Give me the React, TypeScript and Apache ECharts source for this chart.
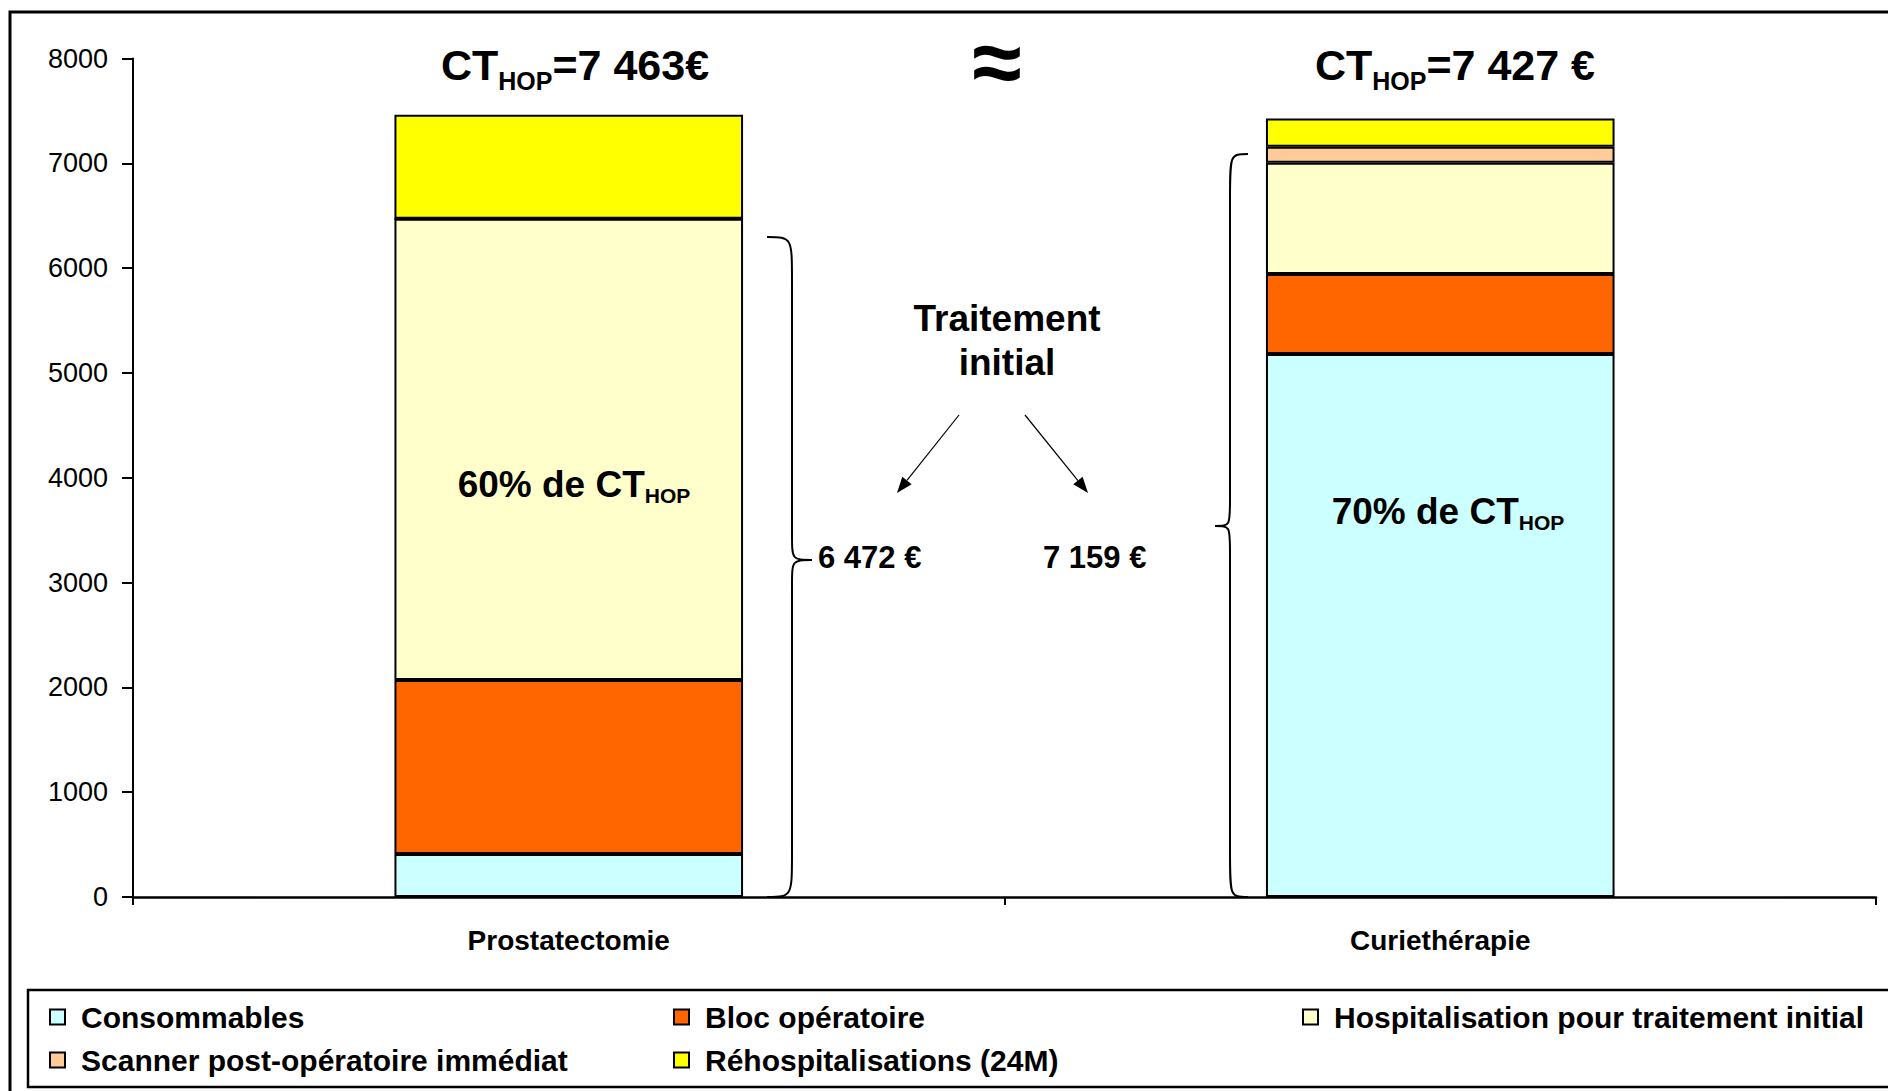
import React, { useEffect, useRef } from "react";
import * as echarts from "echarts";

const categories = ["Prostatectomie", "Curiethérapie"];
const seriesNames = [
  "Consommables",
  "Bloc opératoire",
  "Hospitalisation pour traitement initial",
  "Scanner post-opératoire immédiat",
  "Réhospitalisations (24M)",
];
const consommables = [410, 5180];
const blocOperatoire = [1660, 765];
const hospitalisation = [4402, 1060];
const scanner = [0, 154];
const rehospitalisations = [991, 268];
const seriesColors = ["#CCFFFF", "#FF6600", "#FFFFCC", "#FFCC99", "#FFFF00"];
const totalLabels = ["=7 463€", "=7 427 €"];
const initialLabels = ["6 472 €", "7 159 €"];
const shareLabels = ["60% de CT", "70% de CT"];
const yMax = 8000;
const yInterval = 1000;

const FONT = '"Liberation Sans", Arial, Helvetica, sans-serif';

function measure(text: string, size: number, weight = "bold"): number {
  const c = document.createElement("canvas").getContext("2d");
  if (!c) return text.length * size * 0.55;
  c.font = `${weight} ${size}px ${FONT}`;
  return c.measureText(text).width;
}

function txt(x: number, y: number, text: string, size: number, align = "center", weight = "bold") {
  return {
    type: "text",
    x,
    y,
    z: 100,
    style: {
      text,
      font: `${weight} ${size}px ${FONT}`,
      fill: "#000",
      textAlign: align,
      textVerticalAlign: "middle",
      align,
      verticalAlign: "middle",
    },
  };
}

function subLabel(cx: number, cy: number, parts: { t: string; sub?: boolean }[], F: number, f: number, off: number) {
  const widths = parts.map((p) => measure(p.t, p.sub ? f : F));
  const W = widths.reduce((a, b) => a + b, 0);
  let x = cx - W / 2;
  return parts.map((p, i) => {
    const y = p.sub ? cy + 0.358 * F + off - 0.358 * f : cy;
    const el = txt(x, y, p.t, p.sub ? f : F, "left");
    x += widths[i];
    return el;
  });
}

function bracePath(xe: number, xv: number, xt: number, top: number, tipY: number, bottom: number, r: number, r2: number) {
  return (
    `M${xe} ${top} C${xv} ${top} ${xv} ${top} ${xv} ${top + r} ` +
    `L${xv} ${tipY - r2} C${xv} ${tipY} ${xv} ${tipY} ${xt} ${tipY} ` +
    `C${xv} ${tipY} ${xv} ${tipY} ${xv} ${tipY + r2} ` +
    `L${xv} ${bottom - r} C${xv} ${bottom} ${xv} ${bottom} ${xe} ${bottom}`
  );
}

echarts.graphic.registerShape("braceLeft", echarts.graphic.extendPath(bracePath(767, 792, 812, 237, 560, 897, 45, 26), {}));
echarts.graphic.registerShape("braceRight", echarts.graphic.extendPath(bracePath(1248, 1230, 1215, 154, 526, 897, 45, 26), {}));

function arrow(x1: number, y1: number, x2: number, y2: number) {
  const dx = x2 - x1;
  const dy = y2 - y1;
  const len = Math.sqrt(dx * dx + dy * dy);
  const ux = dx / len;
  const uy = dy / len;
  const hl = 16;
  const hw = 6;
  const bx = x2 - ux * hl;
  const by = y2 - uy * hl;
  return [
    { type: "line", z: 100, shape: { x1, y1, x2: bx, y2: by }, style: { stroke: "#000", lineWidth: 1.2 } },
    {
      type: "polygon",
      z: 100,
      shape: { points: [[x2, y2], [bx - uy * hw, by + ux * hw], [bx + uy * hw, by - ux * hw]] },
      style: { fill: "#000" },
    },
  ];
}

export default function App() {
  const ref = useRef<HTMLDivElement>(null);
  useEffect(() => {
    document.body.style.margin = "0";
    if (!ref.current) return;
    const chart = echarts.init(ref.current, null, { renderer: "svg" });
    const dataSets = [consommables, blocOperatoire, hospitalisation, scanner, rehospitalisations];
    const series = seriesNames.map((name, i) => ({
      name,
      type: "bar",
      stack: "total",
      barWidth: "40%",
      data: dataSets[i],
      itemStyle: { color: seriesColors[i], borderColor: "#000", borderWidth: 2 },
    }));
    const legendPos = [
      [49, 1002],
      [673, 1002],
      [1302, 1002],
      [49, 1045],
      [673, 1045],
    ];
    const legends = seriesNames.map((name, i) => ({
      data: [name],
      left: legendPos[i][0],
      top: legendPos[i][1],
      padding: 0,
      icon: "rect",
      itemWidth: 15,
      itemHeight: 15,
      selectedMode: false,
      itemStyle: { borderColor: "#000", borderWidth: 2 },
      textStyle: { fontFamily: FONT, fontWeight: "bold", fontSize: 30, color: "#000", padding: [0, 0, 0, 11] },
    }));

    const graphics: any[] = [
      { type: "rect", z: 0, silent: true, shape: { x: 10, y: 12, width: 1900, height: 1100 }, style: { fill: "none", stroke: "#000", lineWidth: 3 } },
      { type: "rect", z: 0, silent: true, shape: { x: 28, y: 990, width: 1900, height: 97 }, style: { fill: "none", stroke: "#000", lineWidth: 2.5 } },
      ...subLabel(575, 65, [{ t: "CT" }, { t: "HOP", sub: true }, { t: totalLabels[0] }], 43, 25, 10),
      ...subLabel(1455, 65, [{ t: "CT" }, { t: "HOP", sub: true }, { t: totalLabels[1] }], 43, 25, 10),
      txt(997, 62, "≈", 90),
      ...subLabel(574, 484, [{ t: shareLabels[0] }, { t: "HOP", sub: true }], 37, 21, 6),
      ...subLabel(1448, 511, [{ t: shareLabels[1] }, { t: "HOP", sub: true }], 37, 21, 6),
      txt(1007, 318, "Traitement", 37),
      txt(1007, 362, "initial", 37),
      ...arrow(959, 415, 897, 493),
      ...arrow(1025, 415, 1088, 493),
      txt(818, 557, initialLabels[0], 31, "left"),
      txt(1043, 557, initialLabels[1], 31, "left"),
      { type: "braceLeft", z: 100, style: { fill: "none", stroke: "#000", lineWidth: 2 } },
      { type: "braceRight", z: 100, style: { fill: "none", stroke: "#000", lineWidth: 2 } },
    ];

    chart.setOption({
      animation: false,
      backgroundColor: "#fff",
      grid: { left: 133, right: 12, top: 58.5, bottom: 194, containLabel: false },
      legend: legends,
      xAxis: {
        type: "category",
        data: categories,
        boundaryGap: true,
        axisLine: { lineStyle: { color: "#000", width: 2.5 } },
        axisTick: { show: true, alignWithLabel: false, interval: 0, length: 8, lineStyle: { color: "#000", width: 2 } },
        axisLabel: { fontFamily: FONT, fontWeight: "bold", fontSize: 28, color: "#000", margin: 29 },
      },
      yAxis: {
        type: "value",
        min: 0,
        max: yMax,
        interval: yInterval,
        splitLine: { show: false },
        axisLine: { show: true, lineStyle: { color: "#000", width: 2 } },
        axisTick: { show: true, length: 11, lineStyle: { color: "#000", width: 2 } },
        axisLabel: { fontFamily: FONT, fontSize: 27, color: "#000", margin: 25, formatter: (v: number) => String(v) },
      },
      series,
      graphic: graphics,
    });
    return () => chart.dispose();
  }, []);
  return <div ref={ref} style={{ width: 1888, height: 1091 }} />;
}
